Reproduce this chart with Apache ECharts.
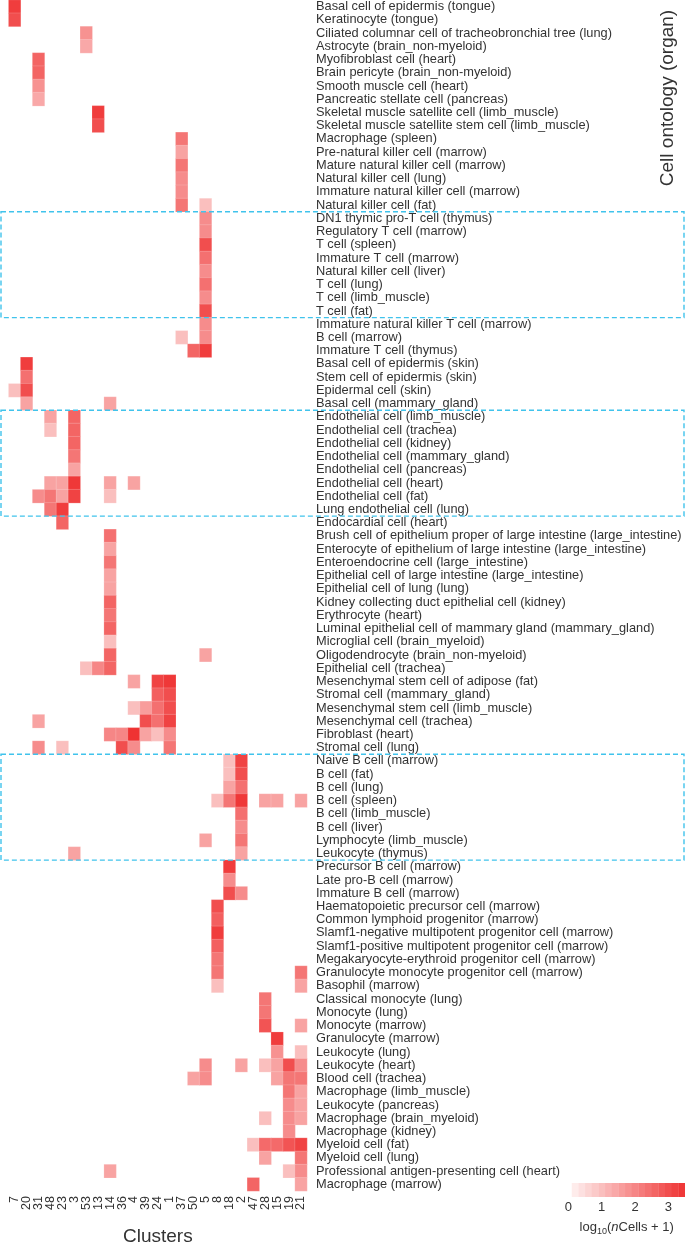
<!DOCTYPE html>
<html>
<head>
<meta charset="utf-8">
<script src="https://cdn.jsdelivr.net/npm/echarts@6/dist/echarts.min.js"></script>
<style>
html,body{margin:0;padding:0;background:#fff;}
#chart{width:685px;height:1244px;}
</style>
</head>
<body>
<div id="chart"></div>
<script>
// Clusters (x axis)
const clusters = ['7','20','31','48','23','3','53','13','14','36','4','39','24','1','37','50','5','8','18','2','47','28','15','19','21'];

// Cell ontology (organ) rows, top to bottom
const cellTypes = [
  'Basal cell of epidermis (tongue)',
  'Keratinocyte (tongue)',
  'Ciliated columnar cell of tracheobronchial tree (lung)',
  'Astrocyte (brain_non-myeloid)',
  'Myofibroblast cell (heart)',
  'Brain pericyte (brain_non-myeloid)',
  'Smooth muscle cell (heart)',
  'Pancreatic stellate cell (pancreas)',
  'Skeletal muscle satellite cell (limb_muscle)',
  'Skeletal muscle satellite stem cell (limb_muscle)',
  'Macrophage (spleen)',
  'Pre-natural killer cell (marrow)',
  'Mature natural killer cell (marrow)',
  'Natural killer cell (lung)',
  'Immature natural killer cell (marrow)',
  'Natural killer cell (fat)',
  'DN1 thymic pro-T cell (thymus)',
  'Regulatory T cell (marrow)',
  'T cell (spleen)',
  'Immature T cell (marrow)',
  'Natural killer cell (liver)',
  'T cell (lung)',
  'T cell (limb_muscle)',
  'T cell (fat)',
  'Immature natural killer T cell (marrow)',
  'B cell (marrow)',
  'Immature T cell (thymus)',
  'Basal cell of epidermis (skin)',
  'Stem cell of epidermis (skin)',
  'Epidermal cell (skin)',
  'Basal cell (mammary_gland)',
  'Endothelial cell (limb_muscle)',
  'Endothelial cell (trachea)',
  'Endothelial cell (kidney)',
  'Endothelial cell (mammary_gland)',
  'Endothelial cell (pancreas)',
  'Endothelial cell (heart)',
  'Endothelial cell (fat)',
  'Lung endothelial cell (lung)',
  'Endocardial cell (heart)',
  'Brush cell of epithelium proper of large intestine (large_intestine)',
  'Enterocyte of epithelium of large intestine (large_intestine)',
  'Enteroendocrine cell (large_intestine)',
  'Epithelial cell of large intestine (large_intestine)',
  'Epithelial cell of lung (lung)',
  'Kidney collecting duct epithelial cell (kidney)',
  'Erythrocyte (heart)',
  'Luminal epithelial cell of mammary gland (mammary_gland)',
  'Microglial cell (brain_myeloid)',
  'Oligodendrocyte (brain_non-myeloid)',
  'Epithelial cell (trachea)',
  'Mesenchymal stem cell of adipose (fat)',
  'Stromal cell (mammary_gland)',
  'Mesenchymal stem cell (limb_muscle)',
  'Mesenchymal cell (trachea)',
  'Fibroblast (heart)',
  'Stromal cell (lung)',
  'Naive B cell (marrow)',
  'B cell (fat)',
  'B cell (lung)',
  'B cell (spleen)',
  'B cell (limb_muscle)',
  'B cell (liver)',
  'Lymphocyte (limb_muscle)',
  'Leukocyte (thymus)',
  'Precursor B cell (marrow)',
  'Late pro-B cell (marrow)',
  'Immature B cell (marrow)',
  'Haematopoietic precursor cell (marrow)',
  'Common lymphoid progenitor (marrow)',
  'Slamf1-negative multipotent progenitor cell (marrow)',
  'Slamf1-positive multipotent progenitor cell (marrow)',
  'Megakaryocyte-erythroid progenitor cell (marrow)',
  'Granulocyte monocyte progenitor cell (marrow)',
  'Basophil (marrow)',
  'Classical monocyte (lung)',
  'Monocyte (lung)',
  'Monocyte (marrow)',
  'Granulocyte (marrow)',
  'Leukocyte (lung)',
  'Leukocyte (heart)',
  'Blood cell (trachea)',
  'Macrophage (limb_muscle)',
  'Leukocyte (pancreas)',
  'Macrophage (brain_myeloid)',
  'Macrophage (kidney)',
  'Myeloid cell (fat)',
  'Myeloid cell (lung)',
  'Professional antigen-presenting cell (heart)',
  'Macrophage (marrow)'
];

// Non-empty cells: [cluster index, row index, log10(nCells + 1)]
const cells = [
  [0,0,3.3],[0,1,3.0],[6,2,1.8],[6,3,1.4],
  [2,4,2.6],[2,5,2.6],[2,6,1.8],[2,7,1.4],
  [7,8,3.3],[7,9,3.0],
  [14,10,2.3],[14,11,1.5],[14,12,2.3],[14,13,1.9],[14,14,1.9],[14,15,2.3],[16,15,1.0],
  [16,16,1.9],[16,17,1.9],[16,18,3.0],[16,19,2.4],[16,20,1.9],[16,21,2.4],[16,22,1.9],[16,23,3.0],
  [16,24,1.9],[14,25,1.0],[16,25,1.9],[15,26,2.6],[16,26,3.3],
  [1,27,3.3],[1,28,2.4],[0,29,1.0],[1,29,3.0],[1,30,1.5],[8,30,1.5],
  [3,31,1.5],[5,31,2.6],[3,32,1.0],[5,32,2.6],[5,33,2.6],[5,34,2.3],[5,35,1.5],
  [3,36,1.5],[4,36,1.5],[5,36,3.4],[8,36,1.5],[10,36,1.5],
  [2,37,1.9],[3,37,2.3],[4,37,1.5],[5,37,3.2],[8,37,1.0],
  [3,38,2.3],[4,38,3.3],[4,39,2.6],
  [8,40,2.4],[8,41,1.5],[8,42,2.3],[8,43,1.5],[8,44,1.5],[8,45,2.6],[8,46,2.3],[8,47,2.6],[8,48,1.0],
  [8,49,2.6],[16,49,1.5],[6,50,1.0],[7,50,2.0],[8,50,2.6],
  [10,51,1.5],[12,51,3.2],[13,51,3.4],
  [12,52,2.7],[13,52,3.0],
  [10,53,1.0],[11,53,1.6],[12,53,2.4],[13,53,3.0],
  [2,54,1.5],[11,54,3.0],[12,54,2.4],[13,54,3.2],
  [8,55,2.0],[9,55,2.0],[10,55,3.5],[11,55,1.5],[12,55,1.0],[13,55,1.9],
  [2,56,1.9],[4,56,1.0],[9,56,3.0],[10,56,1.9],[13,56,2.3],
  [18,57,1.0],[19,57,3.2],[18,58,1.0],[19,58,3.0],[18,59,1.5],[19,59,2.4],
  [17,60,1.0],[18,60,2.3],[19,60,3.4],[21,60,1.5],[22,60,1.5],[24,60,1.5],
  [19,61,2.4],[19,62,1.9],[16,63,1.5],[19,63,2.3],[5,64,1.5],[19,64,1.5],
  [18,65,3.3],[18,66,1.9],[18,67,3.0],[19,67,1.9],
  [17,68,3.0],[17,69,2.7],[17,70,3.3],[17,71,2.7],[17,72,2.3],[17,73,2.3],[24,73,2.3],[17,74,1.0],[24,74,1.5],
  [21,75,2.3],[21,76,2.3],[21,77,2.9],[24,77,1.5],[22,78,3.3],[22,79,1.8],[24,79,1.0],
  [16,80,1.9],[19,80,1.5],[21,80,1.0],[22,80,1.5],[23,80,3.0],[24,80,1.9],
  [15,81,1.5],[16,81,1.9],[22,81,1.5],[23,81,2.3],[24,81,2.3],
  [23,82,2.3],[24,82,1.5],[23,83,1.9],[24,83,1.5],[21,84,1.0],[23,84,1.9],[24,84,1.5],[23,85,1.9],
  [20,86,1.0],[21,86,2.5],[22,86,2.5],[23,86,2.9],[24,86,3.2],
  [21,87,1.5],[24,87,2.3],[8,88,1.5],[23,88,1.0],[24,88,1.9],[20,89,2.6],[24,89,1.5]
];

// Highlighted row groups (first row, last row)
const boxedGroups = [[16,23],[31,38],[57,64]];

// Colour bar steps: [from, to, mid]
const colorbarSteps = [];
for (let i = 0; i < 17; i++) {
  const a = 0.1 + i * 0.2;
  colorbarSteps.push([a, a + 0.2, a + 0.1]);
}
const colorbarTicks = [0, 1, 2, 3];

const FONT = "'Liberation Sans', Arial, Helvetica, sans-serif";
const chart = echarts.init(document.getElementById('chart'), null, {renderer: 'canvas'});

const option = {
  animation: false,
  backgroundColor: '#ffffff',
  textStyle: {fontFamily: FONT},
  grid: [
    {left: 8.7, right: 378, top: 0, bottom: 53, containLabel: false, outerBoundsMode: 'none'},
    {left: 568.4, width: 116.6, top: 1183, height: 14, containLabel: false, outerBoundsMode: 'none'}
  ],
  xAxis: [
    {
      type: 'category', gridIndex: 0, data: clusters, position: 'bottom',
      axisLine: {show: false}, axisTick: {show: false}, splitLine: {show: false},
      axisLabel: {rotate: 90, fontSize: 12.5, color: '#333', margin: 5, fontFamily: FONT, interval: 0},
      name: 'Clusters', nameLocation: 'middle', nameGap: 36,
      nameTextStyle: {fontSize: 19, color: '#333', fontFamily: FONT}
    },
    {
      type: 'value', gridIndex: 1, min: 0, max: 3.5, interval: 1,
      axisLine: {show: false},
      axisTick: {show: true, inside: true, length: 4, lineStyle: {color: '#ffffff', width: 1}},
      splitLine: {show: false},
      axisLabel: {fontSize: 13, color: '#333', margin: 4, fontFamily: FONT,
        showMaxLabel: false,
        formatter: function (v) { return colorbarTicks.indexOf(v) >= 0 ? String(v) : ''; }},
      name: '{a|log}{s|10}{a|(}{i|n}{a|Cells + 1)}',
      nameLocation: 'middle', nameGap: 22,
      nameTextStyle: {
        fontFamily: FONT,
        rich: {
          a: {fontSize: 13, color: '#333', fontFamily: FONT},
          i: {fontSize: 13, color: '#333', fontStyle: 'italic', fontFamily: FONT},
          s: {fontSize: 9, color: '#333', fontFamily: FONT, verticalAlign: 'bottom', padding: [8, 0, 0, 0]}
        }
      }
    }
  ],
  yAxis: [
    {
      type: 'category', gridIndex: 0, data: cellTypes, inverse: true, position: 'right',
      axisLine: {show: false}, axisTick: {show: false}, splitLine: {show: false},
      axisLabel: {fontSize: 12.8, color: '#333', margin: 9, fontFamily: FONT, interval: 0}
    },
    {
      type: 'value', gridIndex: 1, min: 0, max: 1, show: false
    }
  ],
  visualMap: {
    show: false, type: 'continuous', min: 0, max: 3.5, dimension: 2,
    seriesIndex: [0, 1],
    inRange: {color: ['#fff7f6', '#ef3232']}
  },
  series: [
    {
      type: 'heatmap', xAxisIndex: 0, yAxisIndex: 0, data: cells,
      itemStyle: {borderColor: 'rgba(255,255,255,0.35)', borderWidth: 0.5},
      emphasis: {disabled: true}
    },
    {
      type: 'custom', xAxisIndex: 1, yAxisIndex: 1, data: colorbarSteps,
      renderItem: function (params, api) {
        const p0 = api.coord([api.value(0), 1]);
        const p1 = api.coord([api.value(1), 0]);
        return {
          type: 'rect',
          shape: {x: p0[0], y: p0[1], width: p1[0] - p0[0] + 0.3, height: p1[1] - p0[1]},
          style: {fill: api.visual('color')}
        };
      },
      z: 1
    }
  ],
  graphic: []
};

chart.setOption(option);

// Dashed boxes around row groups, positioned from the category axis
function rowBoundary(r) {
  const a = chart.convertToPixel({xAxisIndex: 0, yAxisIndex: 0}, [0, r])[1];
  const b = chart.convertToPixel({xAxisIndex: 0, yAxisIndex: 0}, [0, r + 1])[1];
  return a - (b - a) / 2;
}
const graphics = boxedGroups.map(function (g) {
  const y0 = rowBoundary(g[0]);
  const y1 = rowBoundary(g[1] + 1);
  return {
    type: 'rect', z: 100,
    shape: {x: 1, y: y0, width: chart.getWidth() - 2, height: y1 - y0},
    style: {fill: 'none', stroke: '#40c3ec', lineWidth: 1.4, lineDash: [5, 3]},
    silent: true
  };
});
graphics.push({
  type: 'text', z: 100,
  x: 668, y: 98, rotation: Math.PI / 2,
  style: {text: 'Cell ontology (organ)', fontSize: 19, fontFamily: FONT, fill: '#333',
    align: 'center', verticalAlign: 'middle'}
});
chart.setOption({graphic: graphics});
</script>
</body>
</html>
